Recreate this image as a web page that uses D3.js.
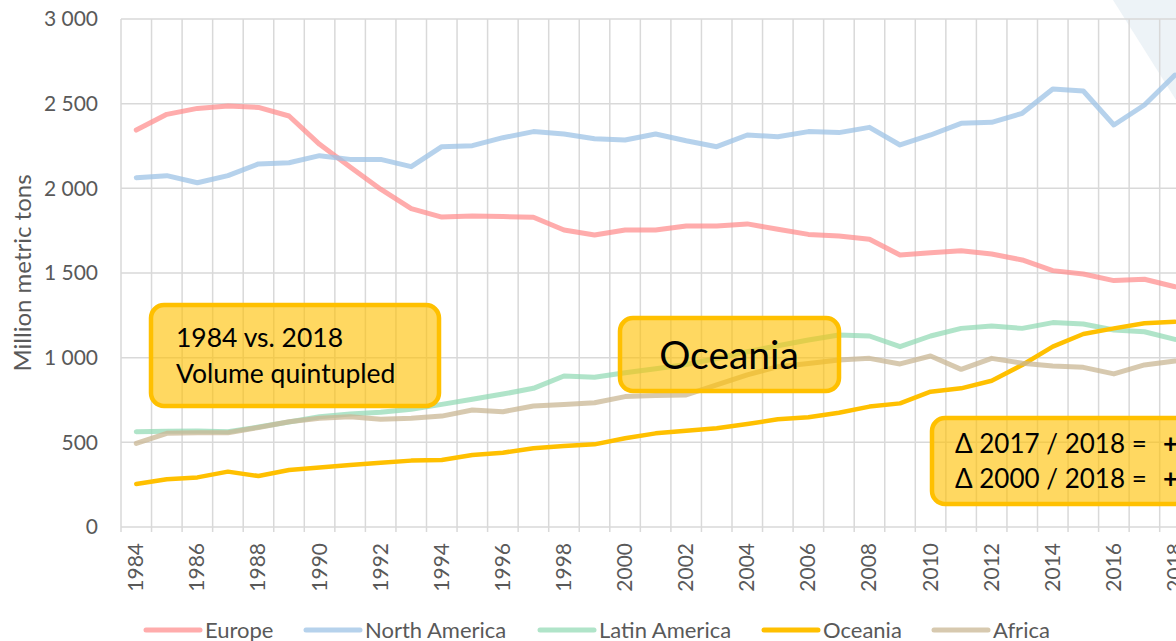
<!DOCTYPE html>
<html lang="en">
<head>
  <meta charset="UTF-8" />
  <title>Volume by region 1984–2018</title>
  <script src="https://d3js.org/d3.v7.min.js"></script>
  <style>
    body {
      margin: 0;
      background: #fff;
      overflow: hidden;
      font-family: "Lato", "Open Sans", sans-serif;
    }
    svg { display: block; }
    .grid line { stroke: #d9d9d9; stroke-width: 1.5; }
    .tick-label { fill: #595959; font-size: 21px; }
    .series { fill: none; stroke-linejoin: round; stroke-linecap: round; }
    .note rect { fill: #FFC000; fill-opacity: 0.62; stroke: #FFC000; stroke-width: 4.5; }
    .note text { fill: #000; }
  </style>
</head>
<body>
<svg id="chart" width="1176" height="641"></svg>
<script>
const years = d3.range(1984, 2019);

const europe = [2344, 2437, 2472, 2486, 2478, 2427, 2260, 2126, 1995, 1880, 1830, 1836, 1833, 1829, 1754, 1724, 1754, 1754, 1778, 1778, 1790, 1758, 1728, 1719, 1699, 1606, 1620, 1632, 1612, 1577, 1514, 1494, 1455, 1463, 1419];
const northAmerica = [2063, 2075, 2033, 2075, 2144, 2151, 2193, 2171, 2171, 2128, 2246, 2252, 2299, 2335, 2321, 2293, 2285, 2321, 2281, 2246, 2315, 2305, 2335, 2329, 2360, 2256, 2315, 2384, 2390, 2443, 2587, 2575, 2374, 2492, 2669];
const latinAmerica = [563, 565, 567, 563, 590, 620, 651, 667, 677, 695, 724, 754, 785, 819, 892, 884, 911, 935, 960, 995, 1035, 1070, 1104, 1134, 1128, 1065, 1128, 1173, 1187, 1173, 1207, 1199, 1163, 1153, 1108];
const oceania = [254, 282, 293, 327, 301, 337, 352, 366, 380, 392, 396, 425, 439, 465, 478, 488, 524, 553, 569, 583, 608, 636, 648, 675, 711, 730, 799, 819, 864, 957, 1065, 1140, 1173, 1203, 1212];
const africa = [494, 553, 557, 557, 588, 622, 642, 651, 636, 642, 655, 691, 681, 715, 724, 734, 770, 776, 780, 839, 898, 947, 965, 986, 996, 963, 1010, 931, 996, 967, 951, 943, 904, 957, 980];

const seriesNames = ["Europe", "North America", "Latin America", "Oceania", "Africa"];
const seriesValues = [europe, northAmerica, latinAmerica, oceania, africa];
const seriesColors = ["#ff8c8c", "#9dc3e6", "#8ed8b2", "#FFC000", "#c9b794"];
const seriesOpacity = [0.72, 0.75, 0.7, 1, 0.75];

const yTicks = [0, 500, 1000, 1500, 2000, 2500, 3000];
const xLabels = years.filter(y => y % 2 === 0);

const svg = d3.select("#chart");

// pale corner decoration, top right
svg.append("path")
  .attr("d", "M1113,0 L1176,0 L1176,100 Z")
  .attr("fill", "#edf3f7");

const x = d3.scaleBand().domain(years).range([121, 121 + 35 * 30.55]);
const y = d3.scaleLinear().domain([0, 3000]).range([527, 19]);
const fmt = v => d3.format(",")(v).replace(",", " ");

// gridlines
const grid = svg.append("g").attr("class", "grid");
grid.selectAll(".h").data(yTicks).join("line")
  .attr("x1", 121).attr("x2", 1176)
  .attr("y1", d => y(d)).attr("y2", d => y(d));
grid.selectAll(".v").data(d3.range(0, 36)).join("line")
  .attr("x1", i => 121 + i * x.step()).attr("x2", i => 121 + i * x.step())
  .attr("y1", y(3000)).attr("y2", y(0) + 5);

// y axis labels
svg.append("g").selectAll("text").data(yTicks).join("text")
  .attr("class", "tick-label")
  .attr("x", 98).attr("y", d => y(d)).attr("dy", "0.35em")
  .attr("text-anchor", "end")
  .text(fmt);

svg.append("text")
  .attr("class", "tick-label")
  .style("font-size", "24px")
  .attr("transform", `translate(31,${y(1500)}) rotate(-90)`)
  .attr("text-anchor", "middle")
  .text("Million metric tons");

// x axis labels
svg.append("g").selectAll("text").data(xLabels).join("text")
  .attr("class", "tick-label")
  .attr("transform", d => `translate(${x(d) + x.bandwidth() / 2 + 7},543) rotate(-90)`)
  .attr("text-anchor", "end")
  .text(d => d);

// series
const line = d3.line()
  .x((d, i) => x(years[i]) + x.bandwidth() / 2)
  .y(d => y(d));

svg.append("g").selectAll("path").data(seriesValues).join("path")
  .attr("class", "series")
  .attr("stroke", (d, i) => seriesColors[i])
  .attr("stroke-opacity", (d, i) => seriesOpacity[i])
  .attr("stroke-width", (d, i) => i === 3 ? 4.5 : 5)
  .attr("d", line);

// annotation boxes
function note(x0, y0, w, h, lines, size, anchor) {
  const g = svg.append("g").attr("class", "note");
  g.append("rect").attr("x", x0).attr("y", y0).attr("width", w).attr("height", h)
    .attr("rx", 13).attr("ry", 13);
  lines.forEach(l => {
    const t = g.append("text")
      .attr("x", l.x).attr("y", l.y)
      .attr("text-anchor", anchor || "start")
      .style("font-size", size + "px");
    l.parts.forEach(p => t.append("tspan").attr("x", p.x != null ? p.x : null)
      .style("font-weight", p.bold ? 700 : 400).text(p.t));
  });
}

note(151, 305, 288, 101, [
  { x: 176, y: 347, parts: [{ t: "1984 vs. 2018" }] },
  { x: 176, y: 383, parts: [{ t: "Volume quintupled" }] }
], 26.5);

note(620, 318, 219, 73, [
  { x: 729, y: 369, parts: [{ t: "Oceania" }] }
], 39, "middle");

note(932, 418, 270, 86, [
  { x: 955, y: 453, parts: [{ t: "Δ 2017 / 2018 =" }, { t: "+", bold: true, x: 1163 }] },
  { x: 955, y: 488, parts: [{ t: "Δ 2000 / 2018 =" }, { t: "+", bold: true, x: 1163 }] }
], 26);

// legend
const legendX = [146, 306, 540, 764, 934];
const legend = svg.append("g").selectAll("g").data(seriesNames).join("g")
  .attr("transform", (d, i) => `translate(${legendX[i]},630)`);
legend.append("line")
  .attr("x1", 0).attr("x2", 54)
  .attr("stroke", (d, i) => seriesColors[i])
  .attr("stroke-opacity", (d, i) => seriesOpacity[i])
  .attr("stroke-width", 5).attr("stroke-linecap", "round");
legend.append("text")
  .attr("class", "tick-label")
  .style("font-size", "22px")
  .attr("x", 59).attr("y", 8)
  .text(d => d);
</script>
</body>
</html>
